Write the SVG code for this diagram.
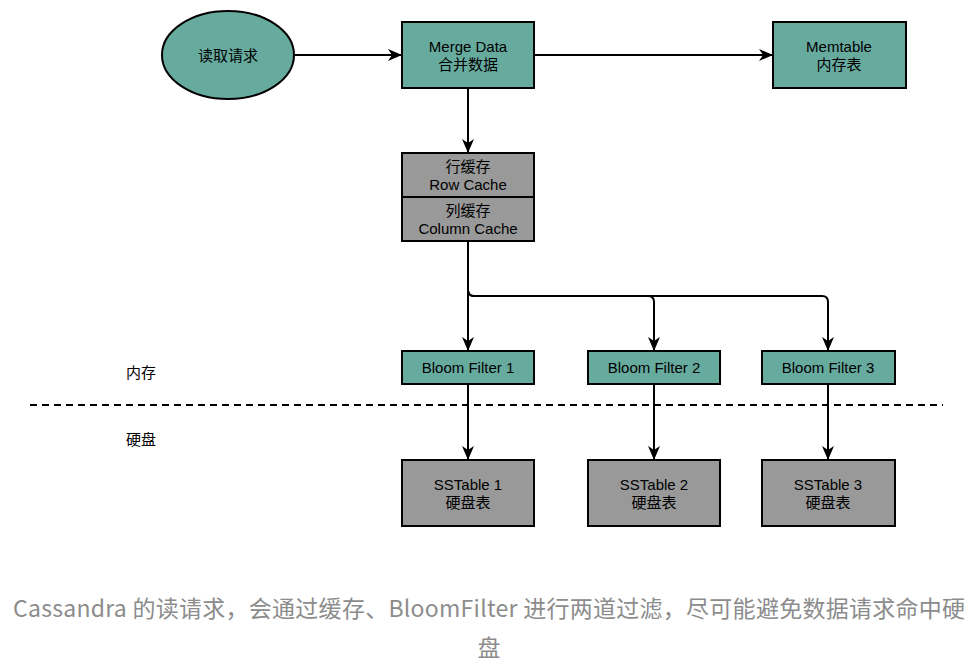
<svg xmlns="http://www.w3.org/2000/svg" width="970" height="663" viewBox="0 0 970 663">
<style>
.t{fill:#67ab9f;stroke:#000;stroke-width:2}
.g{fill:#999999;stroke:#000;stroke-width:2}
.lbl{font-family:"Liberation Sans","Noto Sans CJK SC",sans-serif;font-size:15px;fill:#000;text-anchor:middle}
.c{fill:none;stroke:#000;stroke-width:2}
.cap{font-family:"Noto Sans CJK SC","Noto Sans",sans-serif;font-size:23px;fill:#8c8c8c}
</style>
<defs>
<marker id="a" viewBox="0 0 14 12" refX="13" refY="6" markerWidth="14" markerHeight="12" markerUnits="userSpaceOnUse" orient="auto"><path d="M0,0 L14,6 L0,12 L4,6 z" fill="#000"/></marker>
</defs>
<rect width="970" height="663" fill="#fff"/>
<g id="connectors">
<path class="c" d="M294,55 H401" marker-end="url(#a)"/>
<path class="c" d="M534,55 H772" marker-end="url(#a)"/>
<path class="c" d="M468,88 V152" marker-end="url(#a)"/>
<path class="c" d="M468,241 V350" marker-end="url(#a)"/>
<path class="c" d="M468,241 V290 Q468,296 474,296 H648 Q654,296 654,302 V350" marker-end="url(#a)"/>
<path class="c" d="M468,241 V290 Q468,296 474,296 H822 Q828,296 828,302 V350" marker-end="url(#a)"/>
<path class="c" d="M468,384 V459" marker-end="url(#a)"/>
<path class="c" d="M654,384 V459" marker-end="url(#a)"/>
<path class="c" d="M828,384 V459" marker-end="url(#a)"/>
<path d="M30,405 H943" fill="none" stroke="#000" stroke-width="2" stroke-dasharray="7 5"/>
</g>
<g id="read">
<ellipse class="t" cx="228" cy="55" rx="66" ry="44"/>
<text class="lbl" x="228" y="61">读取请求</text>
</g>
<g id="merge">
<rect class="t" x="402" y="22" width="132" height="66"/>
<text class="lbl" x="468" y="52">Merge Data</text>
<text class="lbl" x="468" y="70">合并数据</text>
</g>
<g id="memtable">
<rect class="t" x="773" y="22" width="133" height="66"/>
<text class="lbl" x="839" y="52">Memtable</text>
<text class="lbl" x="839" y="70">内存表</text>
</g>
<g id="rowcache">
<rect class="g" x="402" y="153" width="132" height="44"/>
<text class="lbl" x="468" y="172">行缓存</text>
<text class="lbl" x="468" y="190">Row Cache</text>
</g>
<g id="colcache">
<rect class="g" x="402" y="197" width="132" height="44"/>
<text class="lbl" x="468" y="216">列缓存</text>
<text class="lbl" x="468" y="234">Column Cache</text>
</g>
<g id="bf1">
<rect class="t" x="402" y="351" width="132" height="33"/>
<text class="lbl" x="468" y="373">Bloom Filter 1</text>
</g>
<g id="bf2">
<rect class="t" x="588" y="351" width="132" height="33"/>
<text class="lbl" x="654" y="373">Bloom Filter 2</text>
</g>
<g id="bf3">
<rect class="t" x="762" y="351" width="133" height="33"/>
<text class="lbl" x="828" y="373">Bloom Filter 3</text>
</g>
<g id="sst1">
<rect class="g" x="402" y="460" width="132" height="66"/>
<text class="lbl" x="468" y="490">SSTable 1</text>
<text class="lbl" x="468" y="508">硬盘表</text>
</g>
<g id="sst2">
<rect class="g" x="588" y="460" width="132" height="66"/>
<text class="lbl" x="654" y="490">SSTable 2</text>
<text class="lbl" x="654" y="508">硬盘表</text>
</g>
<g id="sst3">
<rect class="g" x="762" y="460" width="133" height="66"/>
<text class="lbl" x="828" y="490">SSTable 3</text>
<text class="lbl" x="828" y="508">硬盘表</text>
</g>
<g id="labels">
<text class="lbl" x="141" y="378">内存</text>
<text class="lbl" x="141" y="445">硬盘</text>
</g>
<g id="caption">
<text class="cap" x="13" y="617" textLength="952" lengthAdjust="spacing">Cassandra 的读请求，会通过缓存、BloomFilter 进行两道过滤，尽可能避免数据请求命中硬</text>
<text class="cap" x="489" y="656" text-anchor="middle">盘</text>
</g>
</svg>
